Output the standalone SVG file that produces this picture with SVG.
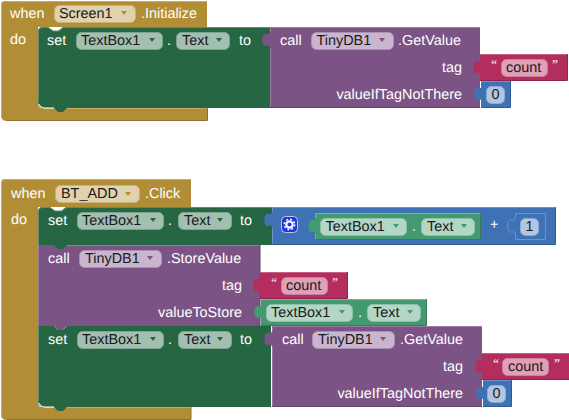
<svg xmlns="http://www.w3.org/2000/svg" width="569" height="420" viewBox="0 0 569 420">
<style>
text{font-family:"Liberation Sans",Arial,sans-serif;font-size:14.4px;fill:#fff;text-rendering:geometricPrecision}
text.d{fill:#1a1a1a}
text.e{text-anchor:end}
text.q{font-size:12px;font-family:"Liberation Serif",serif;font-weight:bold;fill:#f2d5e0}
.br{fill:#b18e35}.gr{fill:#266643}.pu{fill:#7c5385}.pk{fill:#b32d5e}.bl{fill:#3f71b5}.lg{fill:#439970}
.hl{fill:none;stroke-width:1}
.brl{stroke:#c7ab63}.brd{stroke:#8e722a}
.grl{stroke:#5c8a72}.grd{stroke:#1e5236}
.pul{stroke:#9a7aa2}.pud{stroke:#63426a}
.pkl{stroke:#c9607f}.pkd{stroke:#8f244b}
.bll{stroke:#6f94c9}.bld{stroke:#325a91}
.lgl{stroke:#73b598}.lgd{stroke:#357a59}
.f-br{fill:#e0d2ae;stroke:#c8b27a}.f-gr{fill:#a2bfb0;stroke:#7fa391}.f-pu{fill:#c9b6ce;stroke:#ab90b2}
.f-pk{fill:#e0a0b8;stroke:#cb7f9c}.f-bl{fill:#b2c6e2;stroke:#8eaad2}.f-lg{fill:#b3d6c6;stroke:#8cc0a8}
</style>
<defs>
<path id="tab" d="M0,-1C0,2 -3,1 -5,1C-8.500,1 -8.500,13 -5,13C-3,13 0,12 0,15z"/>
<path id="caret" d="M-3,-2h6l-3,4z"/>
</defs>

<g id="when-initialize">
<path class="br" d="M5,1H207V27H38V104Q38,108 42,108H207V121H7Q1,121 1,115V5Q1,1 5,1z"/>
<path class="hl brl" d="M1.500,115V5Q1.500,1.500 5,1.500H207"/>
<path class="hl brl" d="M44,108.500H207"/>
<path class="hl brd" d="M7,120.500H207.500V108"/>
<text x="10" y="18">when</text>
<rect class="f-br" x="54.500" y="5.500" width="81" height="17" rx="5"/>
<text class="d" x="59" y="18">Screen1</text><use href="#caret" x="124" y="13" fill="#b18e35"/>
<text x="141" y="18">.Initialize</text>
<text x="10" y="44">do</text>
</g>

<g id="set-textbox-1">
<path class="gr" d="M43,27H48L53,31H58L63,27H270V108H67L63,112H58L54,108H44Q38,108 38,102V32Q38,27 43,27z"/>
<path class="hl grl" d="M38.500,102V32Q38.500,27.500 43,27.500H48L53,31H59L64,27.500H270"/>
<path class="hl" stroke="#fff" d="M39,104Q40,107.500 44,108H54"/>
<text x="47" y="45">set</text>
<rect class="f-gr" x="76.500" y="32.500" width="86" height="17" rx="5"/>
<text class="d" x="81" y="45">TextBox1</text><use href="#caret" x="152" y="40" fill="#266643"/>
<text x="167" y="45">.</text>
<rect class="f-gr" x="176.500" y="32.500" width="53" height="17" rx="5"/>
<text class="d" x="182" y="45">Text</text><use href="#caret" x="219" y="40" fill="#266643"/>
<text x="239" y="45">to</text>
</g>

<g id="getvalue-1">
<rect class="pu" x="270" y="27" width="210" height="81"/>
<use href="#tab" x="270" y="33" class="pu"/>
<path class="hl pul" d="M270.500,108V48M270.500,32V27.500H480"/>
<path class="hl pud" d="M270,107.500H480"/>
<text x="280" y="45">call</text>
<rect class="f-pu" x="311.500" y="32.500" width="82" height="17" rx="5"/>
<text class="d" x="316.500" y="45">TinyDB1</text><use href="#caret" x="382" y="40" fill="#7c5385"/>
<text x="398" y="45">.GetValue</text>
<text class="e" x="462" y="72">tag</text>
<text class="e" x="462" y="99">valueIfTagNotThere</text>
</g>

<g id="text-count-1">
<rect class="pk" x="480" y="54" width="87" height="27"/>
<use href="#tab" x="481" y="60" class="pk"/>
<path class="hl pkl" d="M480,54.500H567"/>
<path class="hl pkd" d="M480,80.500H567.500V54"/>
<text class="q" x="491" y="68">“</text>
<rect class="f-pk" x="501.500" y="59.500" width="46" height="17" rx="5"/>
<text class="d" x="506" y="72">count</text>
<text class="q" x="552" y="68">”</text>
</g>

<g id="number-0-1">
<rect class="bl" x="481" y="81" width="29" height="27"/>
<use href="#tab" x="482" y="87" class="bl"/>
<path class="hl bll" d="M481,81.500H510"/>
<path class="hl bld" d="M481,107.500H510.500V81"/>
<rect class="f-bl" x="486.500" y="86.500" width="18" height="17" rx="5"/>
<text class="d" x="495.500" y="99" text-anchor="middle">0</text>
</g>

<g id="when-click">
<path class="br" d="M5,179H191V207H38V403Q38,407 42,407H191V420H7Q1,420 1,414V183Q1,179 5,179z"/>
<path class="hl brl" d="M1.500,414V183Q1.500,179.500 5,179.500H191"/>
<path class="hl brl" d="M44,407.500H191"/>
<path class="hl brd" d="M7,419.500H191V407"/>
<text x="11" y="198">when</text>
<rect class="f-br" x="55.500" y="185.500" width="84" height="17" rx="5"/>
<text class="d" x="61" y="198">BT_ADD</text><use href="#caret" x="128" y="194" fill="#b18e35"/>
<text x="145" y="198">.Click</text>
<text x="11" y="224">do</text>
</g>

<g id="set-textbox-2">
<path class="gr" d="M43,207H50L55,211H61L66,207H272V245H38V212Q38,207 43,207z"/>
<path class="hl grl" d="M38.500,245V212Q38.500,207.500 43,207.500H50L55,211H62L67,207.500H272"/>
<text x="48" y="225">set</text>
<rect class="f-gr" x="77.500" y="212.500" width="86" height="17" rx="5"/>
<text class="d" x="82" y="225">TextBox1</text><use href="#caret" x="153" y="220" fill="#266643"/>
<text x="168" y="225">.</text>
<rect class="f-gr" x="178.500" y="212.500" width="53" height="17" rx="5"/>
<text class="d" x="184" y="225">Text</text><use href="#caret" x="220" y="220" fill="#266643"/>
<text x="240" y="225">to</text>
</g>

<g id="join-add">
<rect class="bl" x="272" y="207" width="284" height="38"/>
<use href="#tab" x="272" y="213" class="bl"/>
<path class="hl bll" d="M272.500,245V228M272.500,212V207.500H556"/>
<path class="hl bld" d="M272,244.500H555.500V207"/>
<rect x="281.500" y="216.500" width="16" height="16" rx="4" fill="#2135e0" stroke="#bcc8ea"/>
<circle cx="289.500" cy="224.500" r="3.200" fill="none" stroke="#fff" stroke-width="2.200"/>
<circle cx="289.500" cy="224.500" r="5.200" fill="none" stroke="#fff" stroke-width="1.500" stroke-dasharray="2 2.080"/>
<text x="490" y="229">+</text>
<path class="hl bll" d="M515.500,218V213.500H545.500V239.500H515.500V234"/>
<use href="#tab" x="516" y="219" class="bl"/>
<path class="hl bll" d="M515.500,218C515,221 512,220 510,220C507,220 507,232 510,232C512,232 515,231 515.500,234"/>
<rect class="f-bl" x="520.500" y="218.500" width="18" height="17" rx="5"/>
<text class="d" x="529.500" y="231" text-anchor="middle">1</text>
</g>

<g id="textbox-text-1">
<rect class="lg" x="315" y="213" width="166" height="27"/>
<use href="#tab" x="316" y="219" class="lg"/>
<path class="hl lgl" d="M315.500,240V234M315.500,218V213.500H481"/>
<path class="hl lgd" d="M315,239.500H480.500V213"/>
<rect class="f-lg" x="320.500" y="218.500" width="86" height="17" rx="5"/>
<text class="d" x="325.500" y="231">TextBox1</text><use href="#caret" x="396" y="226" fill="#439970"/>
<text x="412" y="231">.</text>
<rect class="f-lg" x="421.500" y="218.500" width="53" height="17" rx="5"/>
<text class="d" x="427" y="231">Text</text><use href="#caret" x="464" y="226" fill="#439970"/>
</g>

<g id="storevalue">
<path class="pu" d="M38,245H260V326H38z"/>
<path class="gr" d="M54,245L58,249H63L67,245z"/>
<path class="hl pul" d="M38.500,326V245M67,245.500H260"/>
<path class="hl pud" d="M260,245V326"/>
<text x="48" y="263">call</text>
<rect class="f-pu" x="79.500" y="250.500" width="82" height="17" rx="5"/>
<text class="d" x="85" y="263">TinyDB1</text><use href="#caret" x="150" y="258" fill="#7c5385"/>
<text x="167" y="263">.StoreValue</text>
<text class="e" x="242" y="290">tag</text>
<text class="e" x="242" y="317">valueToStore</text>
</g>

<g id="text-count-2">
<rect class="pk" x="260" y="272" width="87" height="27"/>
<use href="#tab" x="261" y="278" class="pk"/>
<path class="hl pkl" d="M260,272.500H347"/>
<path class="hl pkd" d="M260,298.500H347.500V272"/>
<text class="q" x="271" y="286">“</text>
<rect class="f-pk" x="281.500" y="277.500" width="46" height="17" rx="5"/>
<text class="d" x="286" y="290">count</text>
<text class="q" x="332" y="286">”</text>
</g>

<g id="textbox-text-2">
<rect class="lg" x="261" y="299" width="165" height="27"/>
<use href="#tab" x="262" y="305" class="lg"/>
<path class="hl lgl" d="M261,299.500H426"/>
<path class="hl lgd" d="M261,325.500H426.500V299"/>
<rect class="f-lg" x="266.500" y="304.500" width="86" height="17" rx="5"/>
<text class="d" x="271" y="317">TextBox1</text><use href="#caret" x="342" y="312" fill="#439970"/>
<text x="358" y="317">.</text>
<rect class="f-lg" x="367.500" y="304.500" width="53" height="17" rx="5"/>
<text class="d" x="373" y="317">Text</text><use href="#caret" x="410" y="312" fill="#439970"/>
</g>

<g id="set-textbox-3">
<path class="gr" d="M38,326H54L58,330H63L67,326H271V407H67L63,411H58L54,407H44Q38,407 38,401z"/>
<path class="pu" d="M54,326L58,330H63L67,326z"/>
<path class="hl grl" d="M38.500,401V326"/>
<path class="hl" stroke="#fff" d="M39,403Q40,406.500 44,407H54"/>
<text x="48" y="344">set</text>
<rect class="f-gr" x="77.500" y="331.500" width="86" height="17" rx="5"/>
<text class="d" x="82" y="344">TextBox1</text><use href="#caret" x="153" y="339" fill="#266643"/>
<text x="168" y="344">.</text>
<rect class="f-gr" x="178.500" y="331.500" width="53" height="17" rx="5"/>
<text class="d" x="184" y="344">Text</text><use href="#caret" x="220" y="339" fill="#266643"/>
<text x="240" y="344">to</text>
</g>

<g id="getvalue-2">
<rect class="pu" x="272" y="326" width="210" height="81"/>
<use href="#tab" x="272" y="332" class="pu"/>
<path class="hl pul" d="M272.500,407V347M272.500,331V326.500H482"/>
<path class="hl pud" d="M272,406.500H482"/>
<text x="282" y="344">call</text>
<rect class="f-pu" x="312.500" y="331.500" width="82" height="17" rx="5"/>
<text class="d" x="318" y="344">TinyDB1</text><use href="#caret" x="383" y="339" fill="#7c5385"/>
<text x="400" y="344">.GetValue</text>
<text class="e" x="463" y="371">tag</text>
<text class="e" x="463" y="398">valueIfTagNotThere</text>
</g>

<g id="text-count-3">
<rect class="pk" x="482" y="353" width="87" height="27"/>
<use href="#tab" x="483" y="359" class="pk"/>
<path class="hl pkl" d="M482,353.500H569"/>
<path class="hl pkd" d="M482,379.500H569"/>
<text class="q" x="493" y="367">“</text>
<rect class="f-pk" x="502.500" y="358.500" width="46" height="17" rx="5"/>
<text class="d" x="508" y="371">count</text>
<text class="q" x="554" y="367">”</text>
</g>

<g id="number-0-2">
<rect class="bl" x="483" y="380" width="28" height="27"/>
<use href="#tab" x="484" y="386" class="bl"/>
<path class="hl bll" d="M483,380.500H511"/>
<path class="hl bld" d="M483,406.500H511.500V380"/>
<rect class="f-bl" x="487.500" y="385.500" width="18" height="17" rx="5"/>
<text class="d" x="496.500" y="398" text-anchor="middle">0</text>
</g>
</svg>
